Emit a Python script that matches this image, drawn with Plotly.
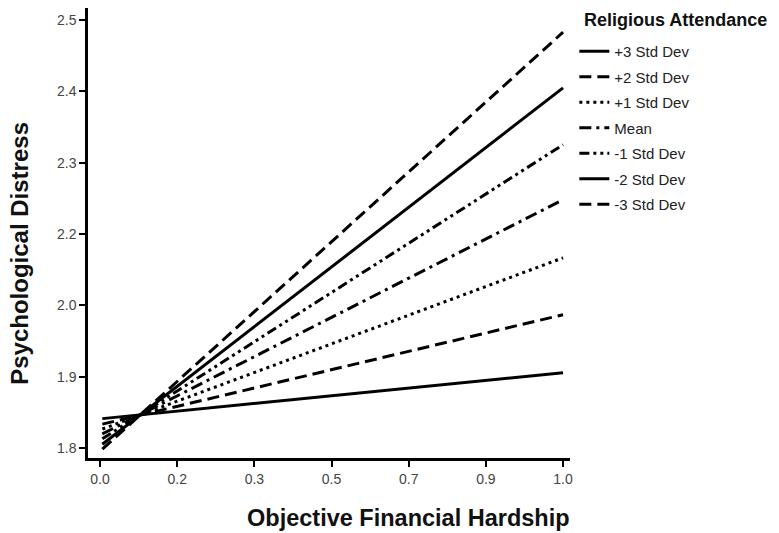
import plotly.graph_objects as go

# Simple slopes of psychological distress on financial hardship,
# one line per level of religious attendance
levels = ["+3 Std Dev", "+2 Std Dev", "+1 Std Dev", "Mean",
          "-1 Std Dev", "-2 Std Dev", "-3 Std Dev"]
hardship = [0.005, 1.0]
distress_start = [1.848, 1.839, 1.831, 1.823, 1.815, 1.806, 1.798]
distress_end = [1.923, 2.018, 2.111, 2.206, 2.296, 2.389, 2.480]
dash_styles = ["solid", "12px,6px", "3px,4px", "12px,5px,3px,5px",
               "10px,4px,3px,4px,3px,4px", "solid", "12px,6px"]

x_tick_vals = [i / 6 for i in range(7)]
x_tick_text = ["0.0", "0.2", "0.3", "0.5", "0.7", "0.9", "1.0"]
y_tick_vals = [1.8 + i * 0.7 / 6 for i in range(7)]
y_tick_text = ["1.8", "1.9", "2.0", "2.2", "2.3", "2.4", "2.5"]

FONT = "Arial, Liberation Sans, sans-serif"

fig = go.Figure()
for i, name in enumerate(levels):
    fig.add_trace(go.Scatter(
        x=hardship, y=[distress_start[i], distress_end[i]],
        mode="lines", name=name, legendgroup=name,
        line=dict(color="black", width=3, dash=dash_styles[i]),
    ))

axis_common = dict(
    showline=True, linecolor="black", linewidth=2.5,
    ticks="outside", ticklen=6, tickwidth=2, tickcolor="black",
    showgrid=False, zeroline=False,
    tickfont=dict(family=FONT, size=14, color="#444"),
)

fig.update_layout(
    width=779, height=533,
    margin=dict(l=88, r=209, t=8, b=75),
    paper_bgcolor="white", plot_bgcolor="white",
    xaxis=dict(range=[-0.026, 1.015], tickvals=x_tick_vals,
               ticktext=x_tick_text, **axis_common),
    yaxis=dict(range=[1.7836, 2.5196], tickvals=y_tick_vals,
               ticktext=y_tick_text, **axis_common),
    legend=dict(
        font=dict(family=FONT, size=15, color="#222"),
        x=1.009, xanchor="left", y=0.94, yanchor="top",
        traceorder="grouped", tracegroupgap=3,
        bgcolor="rgba(0,0,0,0)",
    ),
    annotations=[
        dict(text="<b>Religious Attendance</b>", xref="paper",
             yref="paper", x=1.025, xanchor="left", y=0.973,
             yanchor="middle", showarrow=False,
             font=dict(family=FONT, size=18, color="#111")),
        dict(text="<b>Objective Financial Hardship</b>", xref="paper",
             yref="paper", x=1.005, xanchor="right", y=-0.133,
             yanchor="middle", showarrow=False,
             font=dict(family=FONT, size=23.5, color="#111")),
        dict(text="<b>Psychological Distress</b>", xref="paper",
             yref="paper", x=-0.142, xanchor="center", y=0.455,
             yanchor="middle", textangle=-90, showarrow=False,
             font=dict(family=FONT, size=24, color="#111")),
    ],
)

fig.write_html("out.html")
